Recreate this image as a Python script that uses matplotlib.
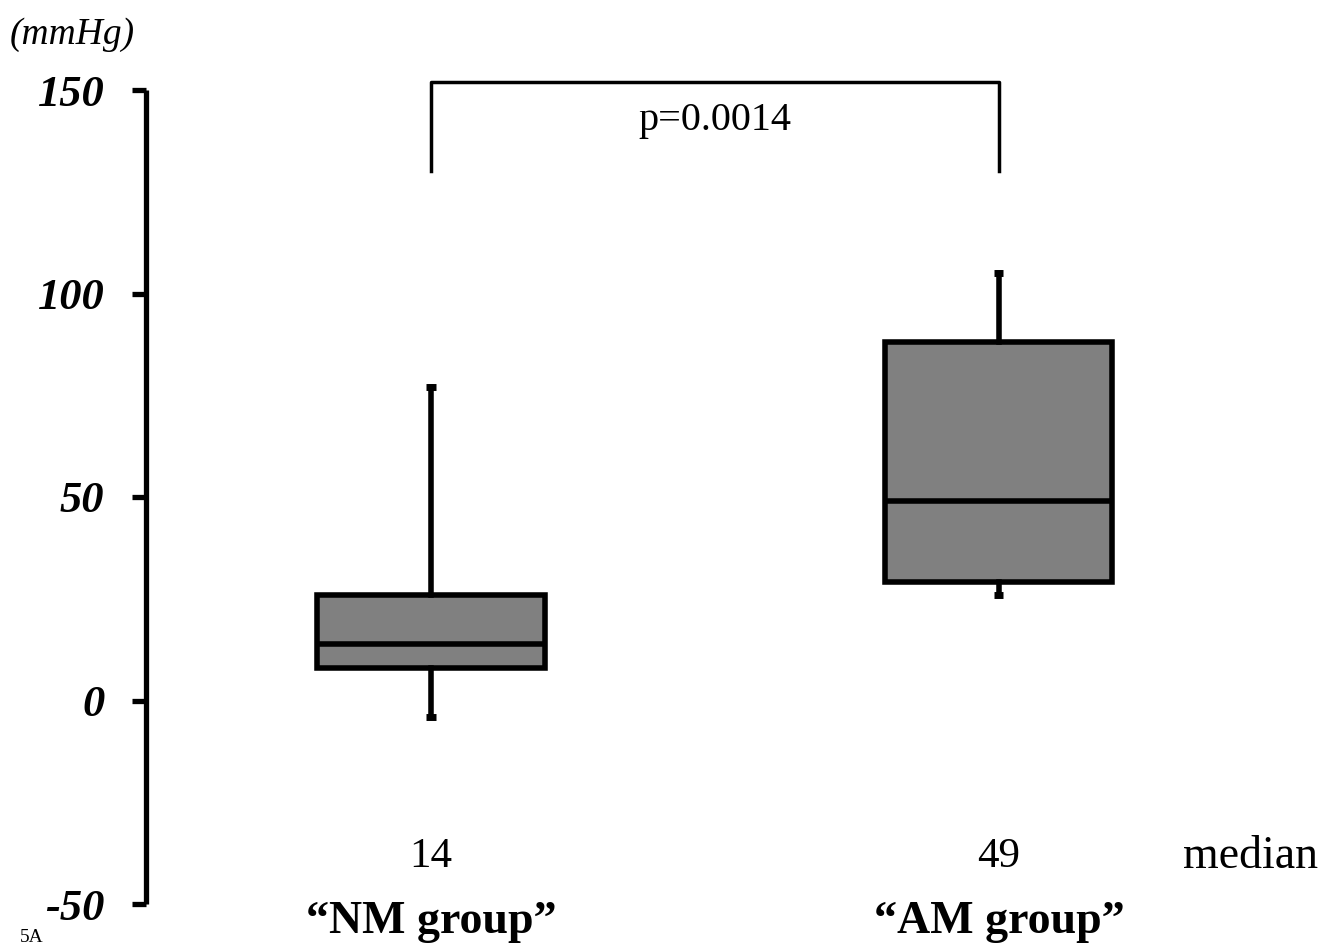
"""Box plot: NM group vs AM group (mmHg)."""

import matplotlib
matplotlib.use("Agg")
import matplotlib.pyplot as plt
import matplotlib.transforms as mtransforms

GROUPS = ["\u201cNM group\u201d", "\u201cAM group\u201d"]
WHISKER_LOW = [-4, 26]
Q1 = [8, 29]
MEDIANS = [14, 49]
Q3 = [26, 88]
WHISKER_HIGH = [77, 105]
Y_TICKS = [-50, 0, 50, 100, 150]
P_TEXT = "p=0.0014"
BRACKET_TOP = 152
BRACKET_LEGS = 130

plt.rcParams["font.family"] = ["Liberation Serif", "DejaVu Serif"]

fig = plt.figure(figsize=(13.27, 9.5), dpi=100)
ax = fig.add_axes([146 / 1327, 46 / 950, 1 - 146 / 1327, 814 / 950])

stats = []
for i in range(len(GROUPS)):
    stats.append({
        "whislo": WHISKER_LOW[i], "q1": Q1[i], "med": MEDIANS[i],
        "q3": Q3[i], "whishi": WHISKER_HIGH[i], "fliers": [],
    })

pos = [1, 2]
lw = 4.0
ax.bxp(
    stats, positions=pos, widths=0.4, patch_artist=True, showfliers=False,
    capwidths=0.016,
    boxprops=dict(facecolor="#808080", edgecolor="black", linewidth=lw),
    medianprops=dict(color="black", linewidth=lw),
    whiskerprops=dict(color="black", linewidth=lw),
    capprops=dict(color="black", linewidth=5, solid_capstyle="butt"),
)

ax.set_xlim(0.498, 2.578)
ax.set_ylim(-50, 150)
ax.set_yticks(Y_TICKS)
ax.set_yticklabels([str(t) for t in Y_TICKS], fontsize=32,
                   fontweight="bold", fontstyle="italic")
ax.tick_params(axis="y", direction="out", length=10, width=3.8, pad=20)
ax.set_xticks([])
for s in ["top", "right", "bottom"]:
    ax.spines[s].set_visible(False)
ax.spines["left"].set_linewidth(3.8)
ax.spines["left"].set_capstyle("butt")

# significance bracket
ax.plot([pos[0], pos[0], pos[1], pos[1]],
        [BRACKET_LEGS, BRACKET_TOP, BRACKET_TOP, BRACKET_LEGS],
        color="black", linewidth=2.5, clip_on=False)
ax.text((pos[0] + pos[1]) / 2, 142.5, P_TEXT, ha="center", va="center",
        fontsize=29)

# medians and group names
trans = mtransforms.blended_transform_factory(ax.transData, fig.transFigure)
for x, m, g in zip(pos, MEDIANS, GROUPS):
    ax.text(x, 1 - 857 / 950, str(m), ha="center", va="center", fontsize=31,
            transform=trans)
    ax.text(x, 1 - 922 / 950, g, ha="center", va="center", fontsize=33,
            fontweight="bold", transform=trans, clip_on=False)
fig.text(1251 / 1327, 1 - 857 / 950, "median", ha="center", va="center",
         fontsize=33)

fig.text(10 / 1327, 1 - 35 / 950, "(mmHg)", ha="left", va="center",
         fontsize=27, fontstyle="italic")
fig.text(20 / 1327, 1 - 938 / 950, "5A", ha="left", va="center", fontsize=14)

fig.savefig("out.png", dpi=100)
